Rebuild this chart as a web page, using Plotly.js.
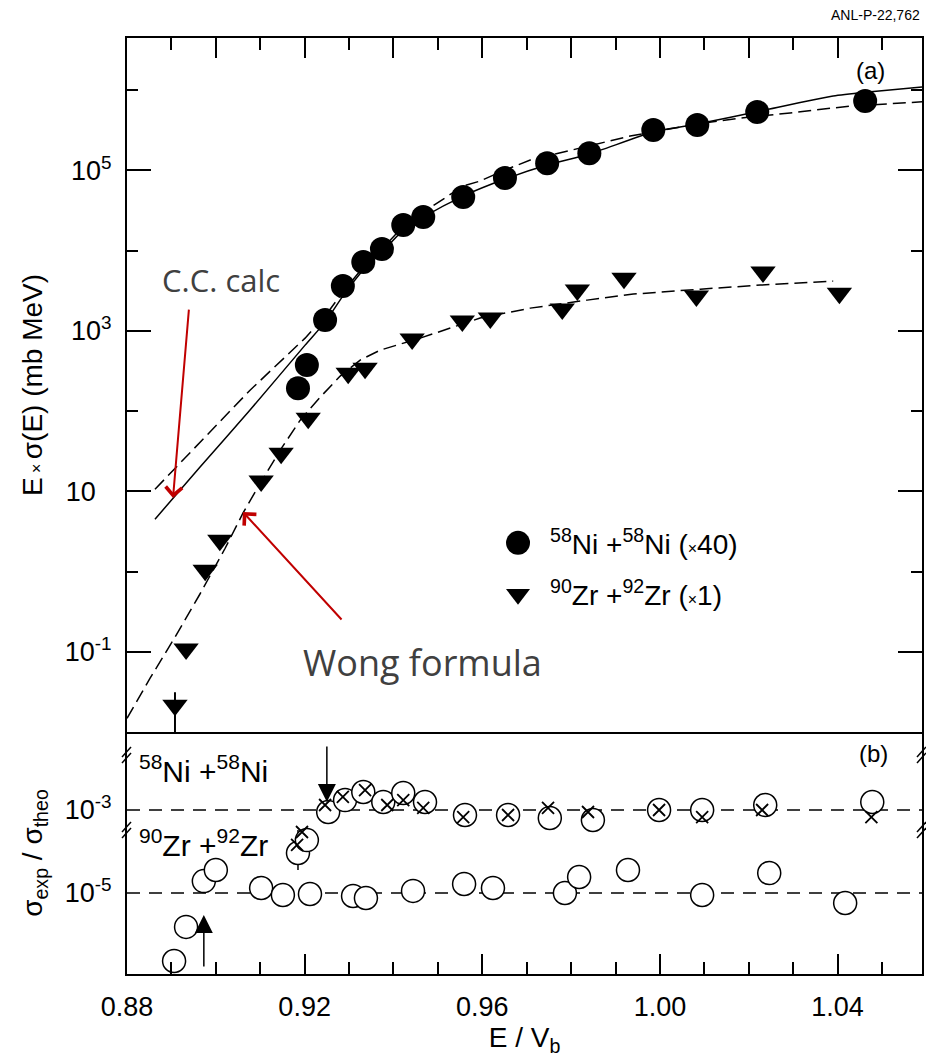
<!DOCTYPE html>
<html>
<head>
<meta charset="utf-8">
<script src="https://cdn.plot.ly/plotly-3.0.1.min.js"></script>
<style>
  html, body { margin: 0; padding: 0; background: #ffffff; }
  #chart { width: 926px; height: 1060px; }
</style>
</head>
<body>
<div id="chart"></div>
<script>
// ---------- Panel (a): E x sigma(E) ----------
const niX = [0.9185, 0.9205, 0.9246, 0.9286, 0.9332, 0.9374, 0.9422, 0.9467, 0.9557, 0.9651, 0.9746, 0.9841, 0.9985, 1.0084, 1.0219, 1.0462];
const niY = [193, 374, 1361, 3610, 7190, 10450, 20800, 26200, 46500, 80200, 123000, 164000, 318000, 367000, 533000, 731000];

const zrX = [0.8908, 0.8933, 0.8976, 0.9009, 0.9102, 0.9147, 0.9208, 0.9298, 0.9336, 0.9442, 0.9555, 0.9618, 0.9780, 0.9814, 0.9919, 1.0082, 1.0232, 1.0404];
const zrY = [0.0215, 0.108, 1.04, 2.46, 13.4, 29.9, 81.6, 297, 343, 789, 1322, 1442, 1866, 3220, 4540, 2710, 5400, 2950];
const zrErrPlus  = [0.0098, 0, 0, 0, 0, 0, 0, 0, 0, 0, 0, 0, 0, 0, 0, 0, 0, 0];
const zrErrMinus = [0.013, 0, 0, 0, 0, 0, 0, 0, 0, 0, 0, 0, 0, 0, 0, 0, 0, 0];

// C.C. calculation for Ni+Ni (solid)
const ccNiX = [0.8863, 0.8964, 0.9077, 0.9201, 0.9246, 0.9286, 0.9332, 0.9374, 0.9422, 0.9467, 0.9557, 0.9651, 0.9746, 0.9841, 0.9985, 1.0084, 1.0226, 1.0390, 1.0469, 1.059];
const ccNiY = [4.49, 20.0, 103, 664, 1285, 2710, 5715, 9590, 18030, 26180, 47860, 78000, 116400, 160000, 300600, 378400, 549500, 845000, 948000, 1094000];

// Wong formula for Ni+Ni (dashed)
const wongNiX = [0.8863, 0.8964, 0.9077, 0.9201, 0.9246, 0.9286, 0.9332, 0.9374, 0.9422, 0.9467, 0.9557, 0.9595, 0.9651, 0.9708, 0.9746, 0.9841, 0.9933, 1.0084, 1.0181, 1.0293, 1.0428, 1.059];
const wongNiY = [10.6, 41.0, 182, 811, 1528, 3040, 6240, 10450, 20230, 30200, 63800, 73600, 100900, 134600, 151000, 201000, 268000, 378400, 449000, 519000, 634000, 715000];

// Wong formula for Zr+Zr (dashed)
const wongZrX = [0.8800, 0.8852, 0.8908, 0.8964, 0.9021, 0.9061, 0.9100, 0.9145, 0.9190, 0.9235, 0.9280, 0.9325, 0.9370, 0.9460, 0.9595, 0.9708, 0.9836, 0.9940, 1.0091, 1.0226, 1.0390];
const wongZrY = [0.0148, 0.0468, 0.152, 0.521, 1.95, 5.33, 12.6, 32.6, 77.1, 149, 273, 432, 575, 811, 1442, 1919, 2415, 2871, 3311, 3715, 4169];

// ---------- Panel (b): sigma_exp / sigma_theo ----------
const niRatioX = [0.9185, 0.9205, 0.9253, 0.9291, 0.9332, 0.9377, 0.9422, 0.9471, 0.9561, 0.9658, 0.9752, 0.9849, 0.9998, 1.0095, 1.0237, 1.0478];
const niRatioCircle = [9.2e-5, 1.89e-4, 8.95e-4, 1.74e-3, 2.72e-3, 1.56e-3, 2.57e-3, 1.56e-3, 7.58e-4, 7.58e-4, 6.42e-4, 5.74e-4, 1.0e-3, 1.0e-3, 1.32e-3, 1.56e-3];
const niRatioErrPlus  = [2.38e-4, 0, 0, 0, 0, 0, 0, 0, 0, 0, 0, 0, 0, 0, 0, 0];
const niRatioErrMinus = [5.6e-5, 0, 0, 0, 0, 0, 0, 0, 0, 0, 0, 0, 0, 0, 0, 0];
const niCrossX = [0.9183, 0.9194, 0.9246, 0.9286, 0.9336, 0.9386, 0.9422, 0.9467, 0.9557, 0.9658, 0.9748, 0.9838, 0.9998, 1.0095, 1.0230, 1.0476];
const niRatioCross = [1.44e-4, 2.95e-4, 1.32e-3, 2.06e-3, 3.03e-3, 1.32e-3, 1.74e-3, 1.12e-3, 6.78e-4, 7.58e-4, 1.12e-3, 8.95e-4, 1.0e-3, 6.78e-4, 1.0e-3, 6.78e-4];

const zrRatioX = [0.8906, 0.8933, 0.8973, 0.9000, 0.9102, 0.9151, 0.9212, 0.9309, 0.9338, 0.9444, 0.9559, 0.9624, 0.9786, 0.9818, 0.9928, 1.0095, 1.0246, 1.0417];
const zrRatio = [2.30e-7, 1.52e-6, 1.94e-5, 3.58e-5, 1.32e-5, 8.95e-6, 9.46e-6, 8.47e-6, 7.58e-6, 1.12e-5, 1.65e-5, 1.32e-5, 1.0e-5, 2.43e-5, 3.58e-5, 8.95e-6, 3.03e-5, 5.74e-6];
const refLevels = [1e-3, 1e-5];

// ---------- Axis ticks ----------
const xLabelVals = [0.88, 0.92, 0.96, 1.00, 1.04];
const xLabelText = ['0.88', '0.92', '0.96', '1.00', '1.04'];
const xMidVals = [0.90, 0.94, 0.98, 1.02];
const xAllMajorVals = [0.88, 0.90, 0.92, 0.94, 0.96, 0.98, 1.00, 1.02, 1.04];
const yTopTickVals = [0.1, 10, 1000, 100000];
const yTopTickText = ['10<sup>-1</sup>', '10<sup>\u00a0\u00a0\u00a0</sup>', '10<sup>3</sup>', '10<sup>5</sup>'];
const yTopMinorVals = [1, 100, 10000, 1000000];
const yBotTickVals = [1e-5, 1e-3];
const yBotTickText = ['10<sup>-5</sup>', '10<sup>-3</sup>'];

const FONT = 'Liberation Sans, Arial, Helvetica, sans-serif';
const SMALLX = "<span style='font-size:16px'>×</span>";

const traces = [
  { x: wongZrX, y: wongZrY, xaxis: 'x2', yaxis: 'y2', mode: 'lines', showlegend: false, hoverinfo: 'skip',
    line: { color: '#000', width: 1.5, dash: '13px,6px' } },
  { x: wongNiX, y: wongNiY, xaxis: 'x2', yaxis: 'y2', mode: 'lines', showlegend: false, hoverinfo: 'skip',
    line: { color: '#000', width: 1.5, dash: '13px,6px' } },
  { x: ccNiX, y: ccNiY, xaxis: 'x2', yaxis: 'y2', mode: 'lines', showlegend: false, hoverinfo: 'skip',
    line: { color: '#000', width: 1.5, shape: 'spline', smoothing: 0.6 } },
  { x: niX, y: niY, xaxis: 'x2', yaxis: 'y2', mode: 'markers', legendgroup: 'a',
    name: '<sup>58</sup>Ni +<sup>58</sup>Ni (' + SMALLX + '40)',
    marker: { symbol: 'circle', size: 24, color: '#000' } },
  { x: zrX, y: zrY, xaxis: 'x2', yaxis: 'y2', mode: 'markers', legendgroup: 'b',
    name: '<sup>90</sup>Zr +<sup>92</sup>Zr (' + SMALLX + '1)',
    marker: { symbol: 'triangle-down', size: 22, color: '#000' },
    error_y: { type: 'data', symmetric: false, array: zrErrPlus, arrayminus: zrErrMinus, color: '#000', thickness: 2, width: 0 } },

  { x: zrRatioX, y: zrRatio, xaxis: 'x', yaxis: 'y', mode: 'markers', showlegend: false,
    marker: { symbol: 'circle', size: 23, color: '#fff', line: { color: '#000', width: 1.5 } } },
  { x: niRatioX, y: niRatioCircle, xaxis: 'x', yaxis: 'y', mode: 'markers', showlegend: false,
    marker: { symbol: 'circle', size: 23, color: '#fff', line: { color: '#000', width: 1.5 } },
    error_y: { type: 'data', symmetric: false, array: niRatioErrPlus, arrayminus: niRatioErrMinus, color: '#000', thickness: 1.5, width: 0 } },
  { x: niCrossX, y: niRatioCross, xaxis: 'x', yaxis: 'y', mode: 'markers', showlegend: false,
    marker: { symbol: 'x-thin', size: 12, color: '#000', line: { color: '#000', width: 1.8 } } }
];

const shapes = [];
refLevels.forEach(function (lv) {
  shapes.push({ type: 'line', xref: 'paper', yref: 'y', x0: 0, x1: 1, y0: lv, y1: lv, layer: 'below',
    line: { color: '#000', width: 1.5, dash: '13px,9px' } });
});
// axis-break marks (left and right, two heights)
[0, 1].forEach(function (xp) {
  [0.2340, 0.1538].forEach(function (yp) {
    [-3, 3].forEach(function (dy) {
      shapes.push({ type: 'line', xref: 'paper', yref: 'paper', xsizemode: 'pixel', ysizemode: 'pixel',
        xanchor: xp, yanchor: yp, x0: -5, x1: 4, y0: dy - 5, y1: dy + 5, line: { color: '#000', width: 1.5 } });
    });
  });
});

const annotations = [
  { xref: 'paper', yref: 'paper', x: 1.0, y: 1.0246, xanchor: 'right', yanchor: 'middle', showarrow: false,
    text: 'ANL-P-22,762', font: { family: FONT, size: 14, color: '#000' } },
  { xref: 'paper', yref: 'paper', x: 0.9346, y: 0.9658, xanchor: 'center', yanchor: 'middle', showarrow: false,
    text: '(a)', font: { family: FONT, size: 24, color: '#000' } },
  { xref: 'paper', yref: 'paper', x: 0.9384, y: 0.2361, xanchor: 'center', yanchor: 'middle', showarrow: false,
    text: '(b)', font: { family: FONT, size: 24, color: '#000' } },
  { xref: 'paper', yref: 'paper', x: 0.0126, y: 0.219, xanchor: 'left', yanchor: 'middle', showarrow: false,
    text: '<sup>58</sup>Ni +<sup>58</sup>Ni', font: { family: FONT, size: 30, color: '#000' } },
  { xref: 'paper', yref: 'paper', x: 0.0126, y: 0.140, xanchor: 'left', yanchor: 'middle', showarrow: false,
    text: '<sup>90</sup>Zr +<sup>92</sup>Zr', font: { family: FONT, size: 30, color: '#000' } },
  { xref: 'paper', yref: 'paper', x: 0.1182, y: 0.7415, xanchor: 'center', yanchor: 'middle', showarrow: false,
    text: 'C.C. calc', font: { family: 'Open Sans, Noto Sans, sans-serif', size: 31, color: '#404040' } },
  { xref: 'paper', yref: 'paper', x: 0.3723, y: 0.333, xanchor: 'center', yanchor: 'middle', showarrow: false,
    text: 'Wong formula', font: { family: 'Open Sans, Noto Sans, sans-serif', size: 36, color: '#404040' } },
  // red arrows
  { xref: 'x2', yref: 'paper', x: 0.89036, y: 0.5085, ax: 16, ay: -190, text: '', showarrow: true,
    arrowhead: 4, arrowsize: 1.6, arrowwidth: 2, arrowcolor: '#c00000' },
  { xref: 'x2', yref: 'paper', x: 0.9061, y: 0.4936, ax: 100, ay: 109, text: '', showarrow: true,
    arrowhead: 4, arrowsize: 1.6, arrowwidth: 2, arrowcolor: '#c00000' },
  // black arrows in panel (b)
  { xref: 'x', yref: 'paper', x: 0.925, y: 0.1838, ax: 0, ay: -57, text: '', showarrow: true,
    arrowhead: 2, arrowsize: 2.4, arrowwidth: 1.5, arrowcolor: '#000' },
  { xref: 'x', yref: 'paper', x: 0.8973, y: 0.0630, ax: 0, ay: 53, text: '', showarrow: true,
    arrowhead: 2, arrowsize: 2.4, arrowwidth: 1.5, arrowcolor: '#000' }
];

const tickFont = { family: FONT, size: 27, color: '#000' };
const minorX = { ticks: 'inside', tick0: 0.88, dtick: 0.01, ticklen: 12, tickwidth: 1.5, tickcolor: '#000', showgrid: false };

const layout = {
  width: 926, height: 1060,
  margin: { l: 127, r: 4, t: 38, b: 86 },
  paper_bgcolor: '#fff', plot_bgcolor: '#fff',
  font: { family: FONT, color: '#000' },
  showlegend: true,
  legend: { x: 0.4516, y: 0.487, xanchor: 'left', yanchor: 'top', bgcolor: 'rgba(0,0,0,0)',
    font: { family: FONT, size: 28, color: '#000' }, itemwidth: 54, tracegroupgap: 12, traceorder: 'grouped' },
  // bottom axis with labels
  xaxis: {
    anchor: 'y', domain: [0, 1], range: [0.88, 1.059],
    tickmode: 'array', tickvals: xLabelVals, ticktext: xLabelText,
    ticks: 'inside', ticklen: 20, tickwidth: 1.5, tickcolor: '#000', minor: minorX,
    showline: true, linewidth: 2, linecolor: '#000', mirror: false, showgrid: false, zeroline: false,
    tickfont: tickFont, ticklabelstandoff: 8,
    title: { text: 'E / V<sub>b</sub>', font: { family: FONT, size: 28, color: '#000' }, standoff: 1 }
  },
  // extra long ticks at 0.90, 0.94 ... on the bottom axis
  xaxis3: {
    overlaying: 'x', anchor: 'y', matches: 'x', range: [0.88, 1.059],
    tickmode: 'array', tickvals: xMidVals, showticklabels: false,
    ticks: 'inside', ticklen: 20, tickwidth: 1.5, tickcolor: '#000',
    showline: false, showgrid: false, zeroline: false
  },
  // top panel x axis (ticks on the top frame)
  xaxis2: {
    anchor: 'y2', matches: 'x', side: 'top', range: [0.88, 1.059],
    tickmode: 'array', tickvals: xAllMajorVals, showticklabels: false,
    ticks: 'inside', ticklen: 20, tickwidth: 1.5, tickcolor: '#000', minor: minorX,
    showline: true, linewidth: 2, linecolor: '#000', mirror: true, showgrid: false, zeroline: false
  },
  yaxis: {
    type: 'log', domain: [0, 0.25855], range: [-6.952, -1.12], anchor: 'x',
    tickmode: 'array', tickvals: yBotTickVals, ticktext: yBotTickText, ticks: '',
    showline: true, linewidth: 2, linecolor: '#000', mirror: true, showgrid: false, zeroline: false,
    tickfont: tickFont, ticklabelstandoff: 8,
    title: { text: 'σ<sub>exp</sub> / σ<sub>theo</sub>', font: { family: FONT, size: 28, color: '#000' }, standoff: 14 }
  },
  yaxis2: {
    type: 'log', domain: [0.25855, 1], range: [-2.0, 6.65], anchor: 'x2',
    tickmode: 'array', tickvals: yTopTickVals, ticktext: yTopTickText,
    ticks: 'inside', ticklen: 24, tickwidth: 1.5, tickcolor: '#000',
    minor: { ticks: 'inside', tickmode: 'array', tickvals: yTopMinorVals, ticklen: 11, tickwidth: 1.5, tickcolor: '#000', showgrid: false },
    showline: true, linewidth: 2, linecolor: '#000', mirror: 'ticks', showgrid: false, zeroline: false,
    tickfont: tickFont, ticklabelstandoff: 8,
    title: { text: 'E' + "<span style='font-size:16px'> × </span>" + 'σ(E) (mb MeV)', font: { family: FONT, size: 28, color: '#000' }, standoff: 14 }
  },
  shapes: shapes,
  annotations: annotations
};

Plotly.newPlot('chart', traces, layout, { displayModeBar: false, responsive: false }).then(function (gd) {
  // enlarge legend symbols to match the plotted marker size
  const scales = [1.5, 1.3];
  gd.querySelectorAll('.legend .traces').forEach(function (tr, i) {
    const s = scales[i] || 1.4;
    tr.querySelectorAll('.legendpoints path.scatterpts').forEach(function (p) {
      const t = p.getAttribute('transform') || '';
      p.setAttribute('transform', t + ' scale(' + s + ')');
    });
  });
});
</script>
</body>
</html>
